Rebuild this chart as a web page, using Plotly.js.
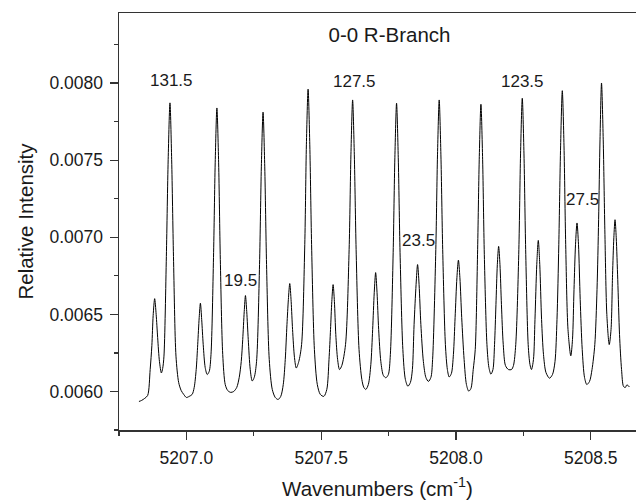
<!DOCTYPE html>
<html>
<head>
<meta charset="utf-8">
<script src="https://cdn.plot.ly/plotly-3.0.1.min.js"></script>
<style>html,body{margin:0;padding:0;background:#fff;}#chart{width:636px;height:500px;}</style>
</head>
<body>
<div id="chart"></div>
<script>
// Spectrum: wavenumber (cm^-1) and relative intensity
var wavenumber = [
5206.8240,5206.8340,5206.8452,5206.8563,5206.8656,5206.8719,5206.8767,5206.8823,5206.8879,5206.8934,
5206.9001,5206.9072,5206.9120,5206.9168,5206.9257,5206.9324,5206.9391,5206.9454,5206.9521,5206.9614,
5206.9714,5206.9807,5206.9900,5207.0000,5207.0104,5207.0215,5207.0290,5207.0364,5207.0420,5207.0475,
5207.0520,5207.0568,5207.0624,5207.0698,5207.0772,5207.0847,5207.0913,5207.1006,5207.1069,5207.1132,
5207.1196,5207.1259,5207.1348,5207.1441,5207.1533,5207.1645,5207.1756,5207.1868,5207.1960,5207.2035,
5207.2090,5207.2146,5207.2191,5207.2239,5207.2295,5207.2369,5207.2443,5207.2517,5207.2603,5207.2714,
5207.2781,5207.2844,5207.2907,5207.2974,5207.3074,5207.3186,5207.3297,5207.3401,5207.3501,5207.3594,
5207.3668,5207.3731,5207.3783,5207.3835,5207.3887,5207.3939,5207.4010,5207.4077,5207.4170,5207.4274,
5207.4392,5207.4452,5207.4515,5207.4578,5207.4645,5207.4749,5207.4857,5207.4968,5207.5098,5207.5209,
5207.5291,5207.5347,5207.5395,5207.5443,5207.5491,5207.5543,5207.5610,5207.5681,5207.5766,5207.5904,
5207.6037,5207.6104,5207.6167,5207.6230,5207.6297,5207.6405,5207.6509,5207.6583,5207.6657,5207.6750,
5207.6843,5207.6910,5207.6969,5207.7021,5207.7073,5207.7133,5207.7214,5207.7307,5207.7400,5207.7493,
5207.7567,5207.7671,5207.7734,5207.7797,5207.7860,5207.7927,5207.8031,5207.8124,5207.8217,5207.8310,
5207.8384,5207.8447,5207.8521,5207.8577,5207.8633,5207.8699,5207.8792,5207.8885,5207.8978,5207.9071,
5207.9134,5207.9253,5207.9316,5207.9379,5207.9442,5207.9509,5207.9609,5207.9683,5207.9750,5207.9832,
5207.9906,5207.9969,5208.0036,5208.0092,5208.0147,5208.0214,5208.0303,5208.0389,5208.0474,5208.0556,
5208.0641,5208.0716,5208.0801,5208.0864,5208.0927,5208.0990,5208.1053,5208.1150,5208.1224,5208.1298,
5208.1373,5208.1432,5208.1484,5208.1536,5208.1584,5208.1633,5208.1688,5208.1755,5208.1837,5208.1948,
5208.2060,5208.2134,5208.2219,5208.2334,5208.2397,5208.2461,5208.2524,5208.2587,5208.2680,5208.2746,
5208.2802,5208.2876,5208.2932,5208.2999,5208.3055,5208.3110,5208.3177,5208.3248,5208.3340,5208.3470,
5208.3582,5208.3675,5208.3749,5208.3816,5208.3883,5208.3946,5208.4009,5208.4072,5208.4157,5208.4261,
5208.4324,5208.4380,5208.4436,5208.4491,5208.4547,5208.4610,5208.4685,5208.4770,5208.4855,5208.4956,
5208.5048,5208.5152,5208.5234,5208.5293,5208.5345,5208.5401,5208.5464,5208.5524,5208.5598,5208.5687,
5208.5754,5208.5810,5208.5858,5208.5902,5208.5947,5208.6003,5208.6069,5208.6144,5208.6218,5208.6285,
5208.6337,5208.6385,5208.6433
];
var intensity = [
0.005935,0.005942,0.005955,0.005974,0.006142,0.006298,0.006492,0.006602,0.006499,0.006350,
0.006194,0.006120,0.006149,0.006229,0.006876,0.007503,0.007872,0.007503,0.006876,0.006229,
0.006058,0.006006,0.005981,0.005961,0.005968,0.005981,0.006026,0.006142,0.006304,0.006479,
0.006573,0.006466,0.006304,0.006155,0.006110,0.006130,0.006240,0.006868,0.007483,0.007839,
0.007483,0.006855,0.006240,0.006045,0.006006,0.005994,0.006000,0.006026,0.006091,0.006194,
0.006337,0.006518,0.006622,0.006518,0.006337,0.006142,0.006068,0.006091,0.006194,0.006823,
0.007457,0.007812,0.007457,0.006823,0.006207,0.006013,0.005961,0.005948,0.005968,0.006045,
0.006207,0.006434,0.006596,0.006700,0.006583,0.006402,0.006220,0.006152,0.006194,0.006304,
0.006952,0.007600,0.007961,0.007600,0.006952,0.006272,0.006045,0.005981,0.005968,0.006013,
0.006207,0.006402,0.006583,0.006693,0.006583,0.006369,0.006207,0.006142,0.006168,0.006304,
0.006920,0.007535,0.007891,0.007535,0.006920,0.006272,0.006078,0.006026,0.006013,0.006045,
0.006175,0.006402,0.006641,0.006771,0.006641,0.006402,0.006194,0.006104,0.006089,0.006110,
0.006240,0.006900,0.007516,0.007870,0.007516,0.006900,0.006272,0.006078,0.006034,0.006058,
0.006142,0.006434,0.006693,0.006823,0.006693,0.006434,0.006194,0.006091,0.006065,0.006091,
0.006207,0.006920,0.007535,0.007891,0.007535,0.006920,0.006304,0.006142,0.006094,0.006117,
0.006240,0.006479,0.006738,0.006852,0.006738,0.006479,0.006207,0.006045,0.006002,0.006019,
0.006142,0.006272,0.006887,0.007503,0.007863,0.007503,0.006887,0.006304,0.006155,0.006112,
0.006142,0.006304,0.006563,0.006823,0.006941,0.006823,0.006563,0.006304,0.006168,0.006142,
0.006142,0.006168,0.006304,0.006920,0.007541,0.007902,0.007541,0.006920,0.006304,0.006175,
0.006142,0.006207,0.006466,0.006823,0.006980,0.006823,0.006466,0.006240,0.006123,0.006086,
0.006110,0.006194,0.006466,0.006952,0.007593,0.007951,0.007593,0.006952,0.006402,0.006231,
0.006337,0.006661,0.006952,0.007093,0.006952,0.006596,0.006272,0.006091,0.006045,0.006065,
0.006142,0.006304,0.006661,0.007114,0.007632,0.008001,0.007632,0.007049,0.006499,0.006304,
0.006402,0.006758,0.006997,0.007114,0.006997,0.006725,0.006369,0.006142,0.006032,0.006026,
0.006042,0.006039,0.006029
];

// Peak labels (J values) and where they are written
var peakLabels = ['131.5', '127.5', '123.5', '19.5', '23.5', '27.5'];
var labelX = [5206.9443, 5207.6238, 5208.2457, 5207.1990, 5207.8618, 5208.4688];
var labelY = [0.008017, 0.008011, 0.008011, 0.006719, 0.006978, 0.007247];

var chartTitle = '0-0 R-Branch';
var xTitle = 'Wavenumbers (cm<sup>-1</sup>)';
var yTitle = 'Relative Intensity';

var FONT = 'Liberation Sans, Arial, Helvetica, sans-serif';
var TXT = '#1a1a1a';
var AX = '#333333';

var trace = {
  x: wavenumber, y: intensity, type: 'scatter', mode: 'lines',
  line: {color: '#000000', width: 1, shape: 'spline', smoothing: 0.8},
  hoverinfo: 'skip'
};

var annotations = peakLabels.map(function (t, i) {
  return {x: labelX[i], y: labelY[i], xref: 'x', yref: 'y', text: t, showarrow: false,
          xanchor: 'center', yanchor: 'middle', font: {family: FONT, size: 17, color: TXT}};
});

var layout = {
  width: 636, height: 500,
  margin: {l: 119, r: 0, t: 13, b: 70, pad: 0},
  paper_bgcolor: '#ffffff', plot_bgcolor: '#ffffff',
  showlegend: false,
  title: {text: chartTitle, x: 389.5 / 636, xref: 'container', xanchor: 'center',
          y: 1 - 35 / 500, yref: 'container', yanchor: 'middle',
          font: {family: FONT, size: 20.5, color: TXT}},
  xaxis: {
    range: [5206.75, 5208.668], autorange: false,
    showgrid: false, zeroline: false,
    showline: true, linecolor: AX, linewidth: 1.5, mirror: true,
    ticks: 'outside', ticklen: 8, tickwidth: 1.3, tickcolor: AX,
    tick0: 5207.0, dtick: 0.5, tickformat: '.1f',
    minor: {ticks: 'outside', ticklen: 4, tickwidth: 1.3, tickcolor: AX, tick0: 5206.75, dtick: 0.25, showgrid: false},
    tickfont: {family: FONT, size: 17.5, color: TXT},
    ticklabelstandoff: 3,
    title: {text: xTitle, font: {family: FONT, size: 20.5, color: TXT}, standoff: 15}
  },
  yaxis: {
    range: [0.00575, 0.008455], autorange: false,
    showgrid: false, zeroline: false,
    showline: true, linecolor: AX, linewidth: 1.5, mirror: false,
    ticks: 'outside', ticklen: 8, tickwidth: 1.3, tickcolor: AX,
    tick0: 0.006, dtick: 0.0005, tickformat: '.4f',
    minor: {ticks: 'outside', ticklen: 4, tickwidth: 1.3, tickcolor: AX, tick0: 0.00575, dtick: 0.00025, showgrid: false},
    tickfont: {family: FONT, size: 17.5, color: TXT},
    ticklabelstandoff: 3,
    title: {text: yTitle, font: {family: FONT, size: 20.5, color: TXT}, standoff: 10}
  },
  annotations: annotations
};

Plotly.newPlot('chart', [trace], layout, {displayModeBar: false, staticPlot: true});
</script>
</body>
</html>
